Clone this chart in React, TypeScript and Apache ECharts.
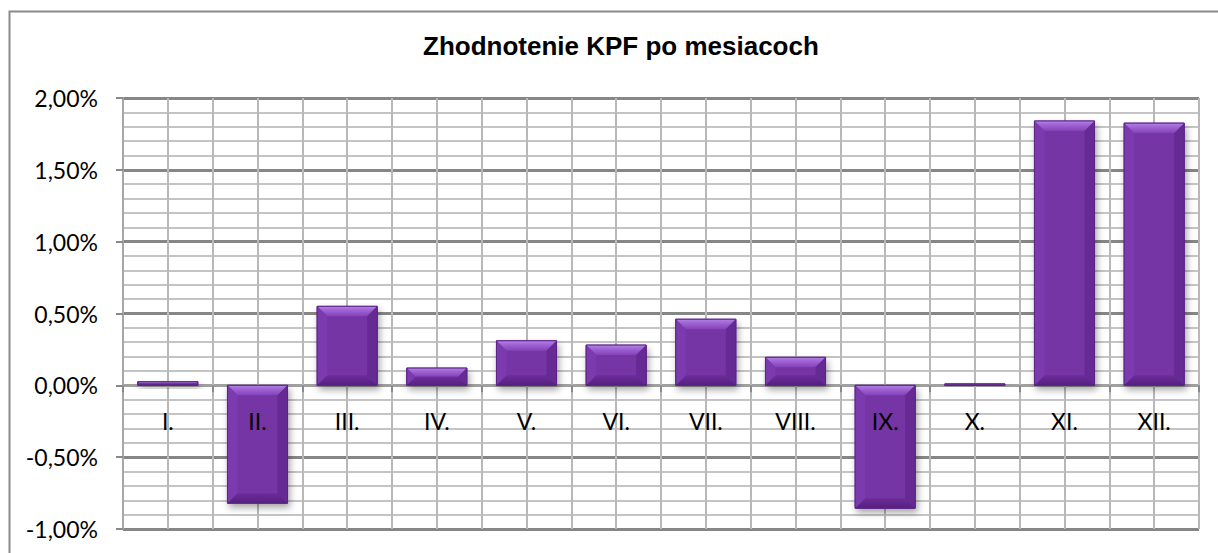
import React, { useEffect, useRef } from "react";
import * as echarts from "echarts";

const TITLE = "Zhodnotenie KPF po mesiacoch";
const categories = ["I.", "II.", "III.", "IV.", "V.", "VI.", "VII.", "VIII.", "IX.", "X.", "XI.", "XII."];
// monthly return in percent
const values = [0.025, -0.82, 0.55, 0.12, 0.31, 0.28, 0.46, 0.195, -0.855, 0.01, 1.84, 1.825];
const yMin = -1;
const yMax = 2;
const yStep = 0.5;

const GRID_TOP = 98;
const GRID_BOTTOM = 24;
const CHART_H = 553;

export default function App() {
  const ref = useRef<HTMLDivElement>(null);
  useEffect(() => {
    if (!ref.current) return;
    const chart = echarts.init(ref.current, null, { renderer: "svg" });
    const gridH = CHART_H - GRID_TOP - GRID_BOTTOM;
    const zeroOffset = -(gridH * (0 - yMin)) / (yMax - yMin);
    // half-category slots: gridlines at every category boundary and centre
    const halfSlots = categories.flatMap((c) => [c + "a", c + "b"]);
    const renderItem = (params: any, api: any) => {
      const idx = api.value(0);
      const v = api.value(1);
      const c = api.coord([idx, v]);
      const z = api.coord([idx, 0]);
      const w = api.size([1, 0])[0] * 0.67;
      const x0 = c[0] - w / 2;
      const x1 = c[0] + w / 2;
      const yTop = Math.min(c[1], z[1]);
      const yBot = Math.max(c[1], z[1]);
      const h = Math.max(yBot - yTop, 1);
      const b = Math.min(10, h / 2, w / 2);
      const yB = yTop + h;
      return {
        type: "group",
        children: [
          {
            type: "rect",
            shape: { x: x0, y: yTop, width: w, height: h },
            style: {
              fill: "#7434a4",
              stroke: "#5b2486",
              lineWidth: 1,
              shadowBlur: 7,
              shadowOffsetX: 2,
              shadowOffsetY: 4,
              shadowColor: "rgba(0,0,0,0.35)",
            },
          },
          {
            type: "polygon",
            shape: { points: [[x0, yTop], [x1, yTop], [x1 - b, yTop + b], [x0 + b, yTop + b]] },
            style: {
              fill: new echarts.graphic.LinearGradient(0, 0, 0, 1, [
                { offset: 0, color: "#b681e6" },
                { offset: 0.35, color: "#a066d6" },
                { offset: 1, color: "#8442b8" },
              ]),
            },
          },
          {
            type: "polygon",
            shape: { points: [[x0, yB], [x1, yB], [x1 - b, yB - b], [x0 + b, yB - b]] },
            style: {
              fill: new echarts.graphic.LinearGradient(0, 0, 0, 1, [
                { offset: 0, color: "#6c2d9a" },
                { offset: 1, color: "#56207f" },
              ]),
            },
          },
          {
            type: "polygon",
            shape: { points: [[x0, yTop], [x0 + b, yTop + b], [x0 + b, yB - b], [x0, yB]] },
            style: { fill: "#7b3aad" },
          },
          {
            type: "polygon",
            shape: { points: [[x1, yTop], [x1 - b, yTop + b], [x1 - b, yB - b], [x1, yB]] },
            style: { fill: "#652a93" },
          },
          {
            type: "rect",
            shape: { x: x0, y: yTop, width: w, height: h },
            style: { fill: "none", stroke: "#5b2486", lineWidth: 1 },
          },
        ],
      };
    };
    chart.setOption({
      animation: false,
      backgroundColor: "#ffffff",
      title: {
        text: TITLE,
        left: 418,
        top: 28,
        textStyle: {
          fontFamily: "Liberation Sans",
          fontWeight: "bold",
          fontSize: 26,
          color: "#000",
        },
      },
      graphic: [
        {
          type: "rect",
          left: 7,
          top: 9,
          shape: { x: 0, y: 0, width: 1240, height: 580 },
          style: { fill: "none", stroke: "#8a8a8a", lineWidth: 2 },
          silent: true,
          z: 100,
        },
      ],
      grid: {
        left: 123,
        right: 19,
        top: GRID_TOP,
        bottom: GRID_BOTTOM,
        containLabel: false,
        outerBoundsMode: "none",
      },
      xAxis: [
        {
          type: "category",
          data: categories,
          boundaryGap: true,
          position: "bottom",
          offset: zeroOffset,
          z: 20,
          axisLine: { show: false, onZero: false },
          axisTick: { show: true, length: 7, lineStyle: { color: "#8a8a8a", width: 2 } },
          axisLabel: {
            margin: 24,
            interval: 0,
            fontFamily: "Lato",
            fontSize: 23,
            color: "#000",
          },
          splitLine: { show: false },
        },
        {
          type: "category",
          data: halfSlots,
          boundaryGap: true,
          position: "top",
          z: 0,
          axisLine: { show: false, onZero: false },
          axisTick: { show: false },
          axisLabel: { show: false, interval: 0 },
          splitLine: { show: true, interval: 0, lineStyle: { color: "#b8b8b8", width: 2 } },
        },
      ],
      yAxis: {
        type: "value",
        min: yMin,
        max: yMax,
        interval: yStep,
        axisLine: { show: true, lineStyle: { color: "#a6a6a6", width: 2 } },
        axisTick: { show: true, length: 7, lineStyle: { color: "#8a8a8a", width: 2 } },
        axisLabel: {
          margin: 25,
          fontFamily: "Lato",
          fontSize: 23,
          color: "#000",
          formatter: (v: number) => v.toFixed(2).replace(".", ",") + "%",
        },
        splitLine: {
          show: true,
          lineStyle: {
            color: ["#868686", "#868686", "#a0a0a0", "#868686", "#868686", "#868686", "#868686"],
            width: 3,
          },
        },
        minorTick: { show: false, splitNumber: 5 },
        minorSplitLine: { show: true, lineStyle: { color: "#c4c4c4", width: 2 } },
      },
      series: [
        {
          type: "custom",
          xAxisIndex: 0,
          yAxisIndex: 0,
          renderItem,
          encode: { x: 0, y: 1 },
          data: values.map((v, i) => [i, v]),
          z: 10,
        },
      ],
    });
    return () => chart.dispose();
  }, []);
  return (
    <div
      ref={ref}
      style={{ position: "fixed", left: 0, top: 0, width: 1218, height: 553 }}
    />
  );
}
